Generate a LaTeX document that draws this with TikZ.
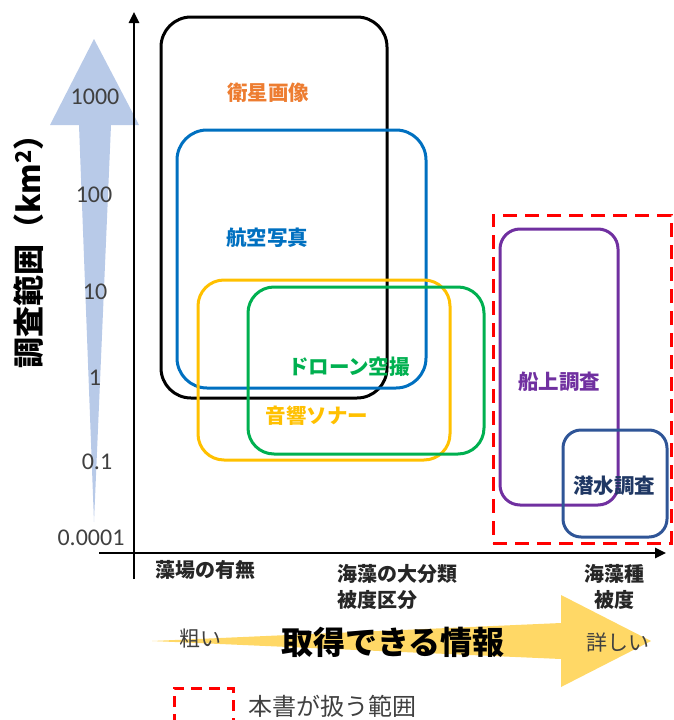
\documentclass[tikz,border=0pt]{standalone}
\usepackage{fontspec}
\setmainfont{Carlito}
\newfontfamily\jp{Noto Sans CJK JP}
\usetikzlibrary{arrows.meta}
\newcommand{\myfs}[2][1.2]{\fontsize{#2}{#1\dimexpr #2pt\relax}\selectfont}
\definecolor{orng}{HTML}{ED7D31}
\definecolor{blu}{HTML}{0070C0}
\definecolor{ylw}{HTML}{FFC000}
\definecolor{grn}{HTML}{00B050}
\definecolor{prp}{HTML}{7030A0}
\definecolor{dblu}{HTML}{2F5597}
\definecolor{navy}{HTML}{203864}
\definecolor{lblu}{RGB}{184,202,232}
\definecolor{gold}{RGB}{255,216,102}
\definecolor{txtgray}{HTML}{404040}
\definecolor{catgray}{HTML}{262626}
\begin{document}
\begin{tikzpicture}[x=1pt,y=-1pt,
  box/.style={draw, line width=3pt, rounded corners=#1, inner sep=0pt, fill=none},
  box/.default=28pt,
  axis/.style={line width=2.5pt, -{Triangle[length=11pt,width=10pt]}},
  tick/.style={font=\myfs{24}, text=txtgray, inner sep=0pt},
  lab/.style={font=\jp\bfseries\myfs{20.5}, inner sep=0pt},
  cat/.style={font=\jp\bfseries\myfs[1.3]{20}, text=catgray, inner sep=0pt},
  soft/.style={font=\jp\myfs{21}, text=txtgray, inner sep=0pt}]
\useasboundingbox (0,0) rectangle (673,720);
% vertical light-blue arrow
\fill[lblu] (94,39) -- (139,125) -- (111,125) -- (94,522) -- (79,125) -- (50,125) -- cycle;
% horizontal golden arrow
\fill[gold] (152,641) -- (561,623) -- (561,595) -- (651,641) -- (561,687) -- (561,659) -- cycle;
% y tick labels
\node[tick] (t1000) at (95,97) {1000};
\node[tick] (t100) at (94,195) {100};
\node[tick] (t10) at (95,292) {10};
\node[tick] (t1) at (95,378) {1};
\node[tick] (t01) at (97,462) {0.1};
\node[tick] (t00001) at (91,538) {0.0001};
% y title
\node[rotate=90, font=\jp\bfseries\myfs{31}, inner sep=0pt] (ytitle) at (29,244) {調査範囲（km\textsuperscript{2}）};
% axes
\coordinate (yb) at (134,579);
\coordinate (yt) at (134,12);
\coordinate (xl) at (99,553);
\coordinate (xr) at (666,553);
\draw[axis] (yb) -- (yt);
\draw[axis] (xl) -- (xr);
% boxes
\node[box=30pt, draw=black, minimum width=226pt, minimum height=381pt] (sat) at (274,207.5) {};
\node[box=30pt, draw=blu, minimum width=249pt, minimum height=258pt] (air) at (301.5,259) {};
\node[box=26pt, draw=ylw, minimum width=252pt, minimum height=180pt] (sonar) at (324,370) {};
\node[box=26pt, draw=grn, minimum width=236pt, minimum height=167pt] (drone) at (366,370.5) {};
\node[draw=red, line width=3pt, dash pattern=on 14pt off 8pt, inner sep=0pt, minimum width=178pt, minimum height=328pt] (scope) at (582,379) {};
\node[box=20pt, draw=prp, minimum width=118pt, minimum height=276pt] (ship) at (559,367) {};
\node[box=18pt, draw=dblu, minimum width=104pt, minimum height=107pt] (dive) at (615,483.5) {};
% box labels
\node[lab, text=orng] (satl) at (268,93) {衛星画像};
\node[lab, text=blu] (airl) at (267,238) {航空写真};
\node[lab, text=grn] (dronel) at (349,367) {ドローン空撮};
\node[lab, text=ylw] (sonarl) at (317,416) {音響ソナー};
\node[lab, text=prp] (shipl) at (559,382) {船上調査};
\node[lab, text=navy] (divel) at (614,486) {潜水調査};
% x categories
\node[cat] (c1) at (205,570) {藻場の有無};
\node[cat, align=left, anchor=west] (c2) at (337,586.5) {海藻の大分類\\被度区分};
\node[cat, align=center] (c3) at (614,586.5) {海藻種\\被度};
% information arrow labels
\node[soft] (coarse) at (200,639) {粗い};
\node[font=\jp\bfseries\myfs{32}, inner sep=0pt] (info) at (393,642) {取得できる情報};
\node[soft] (fine) at (618,642) {詳しい};
% legend
\node[draw=red, line width=3pt, dash pattern=on 11pt off 7pt, inner sep=0pt, minimum width=59pt, minimum height=36pt] (legbox) at (203.5,706) {};
\node[font=\jp\myfs{24}, text=txtgray, inner sep=0pt, anchor=west] (legtext) at (248,706) {本書が扱う範囲};
\end{tikzpicture}
\end{document}
